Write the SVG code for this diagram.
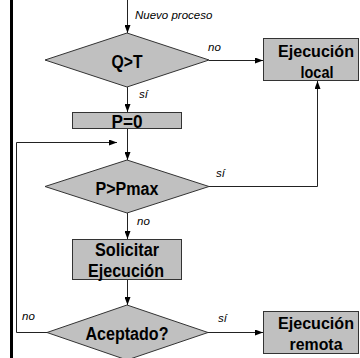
<svg xmlns="http://www.w3.org/2000/svg" width="360" height="358" viewBox="0 0 360 358">
<defs>
<marker id="ah" markerUnits="userSpaceOnUse" markerWidth="8" markerHeight="6" refX="8" refY="3" orient="auto">
<path d="M0,0 L8,3 L0,6 z" fill="#000"/>
</marker>
<style>
.shape{fill:#c0c0c0;stroke:#333;stroke-width:1}
.t{font-family:"Liberation Sans",Arial,sans-serif;font-weight:bold;font-size:18px;fill:#000;text-anchor:middle}
.b{font-size:17px}
.l{font-family:"Liberation Sans",Arial,sans-serif;font-style:italic;font-size:11.5px;fill:#000}
.c{fill:none;stroke:#222;stroke-width:1}
</style>
</defs>
<rect width="360" height="358" fill="#fff"/>
<rect x="10" y="0" width="3" height="358" fill="#000"/>
<g id="connectors">
<path class="c" d="M127.5,0 V33" marker-end="url(#ah)"/>
<path class="c" d="M209,60.5 H263" marker-end="url(#ah)"/>
<path class="c" d="M127.5,87 V112" marker-end="url(#ah)"/>
<path class="c" d="M127.5,129 V160" marker-end="url(#ah)"/>
<path class="c" d="M47,332.5 H16.5 V142.5 H117" marker-end="url(#ah)"/>
<path class="c" d="M209,186.5 H317.5 V81" marker-end="url(#ah)"/>
<path class="c" d="M127.5,213 V239" marker-end="url(#ah)"/>
<path class="c" d="M127.5,280 V305" marker-end="url(#ah)"/>
<path class="c" d="M208,332.5 H263" marker-end="url(#ah)"/>
<text class="l" x="135" y="19">Nuevo proceso</text>
<text class="l" x="208" y="51">no</text>
<text class="l" x="139" y="98">sí</text>
<text class="l" x="216" y="177">sí</text>
<text class="l" x="137" y="225">no</text>
<text class="l" x="22" y="320">no</text>
<text class="l" x="218" y="322">sí</text>
</g>
<g id="qt">
<polygon class="shape" points="127,33 209,60 127,87 45,60"/>
<text class="t" x="127" y="68" textLength="31" lengthAdjust="spacingAndGlyphs">Q&gt;T</text>
</g>
<g id="local">
<rect class="shape" x="263.5" y="38.5" width="95" height="42"/>
<text class="t b" x="316" y="57" textLength="76" lengthAdjust="spacingAndGlyphs">Ejecución</text>
<text class="t b" x="317" y="78" textLength="33" lengthAdjust="spacingAndGlyphs">local</text>
</g>
<g id="p0">
<rect class="shape" x="72.5" y="112.5" width="109" height="16"/>
<text class="t" x="127" y="127.5" textLength="31" lengthAdjust="spacingAndGlyphs">P=0</text>
</g>
<g id="pmax">
<polygon class="shape" points="127,160 209,186.5 127,213 45,186.5"/>
<text class="t" x="127" y="195" textLength="63" lengthAdjust="spacingAndGlyphs">P&gt;Pmax</text>
</g>
<g id="solicitar">
<rect class="shape" x="72.5" y="239.5" width="109" height="40"/>
<text class="t" x="127" y="256" textLength="64" lengthAdjust="spacingAndGlyphs">Solicitar</text>
<text class="t" x="126" y="277" textLength="76" lengthAdjust="spacingAndGlyphs">Ejecución</text>
</g>
<g id="aceptado">
<polygon class="shape" points="127,305 208,332.5 127,360 47,332.5"/>
<text class="t" x="127" y="340" textLength="83" lengthAdjust="spacingAndGlyphs">Aceptado?</text>
</g>
<g id="remota">
<rect class="shape" x="263.5" y="311.5" width="95" height="42"/>
<text class="t b" x="316" y="329" textLength="76" lengthAdjust="spacingAndGlyphs">Ejecución</text>
<text class="t b" x="316" y="350" textLength="53" lengthAdjust="spacingAndGlyphs">remota</text>
</g>
</svg>
